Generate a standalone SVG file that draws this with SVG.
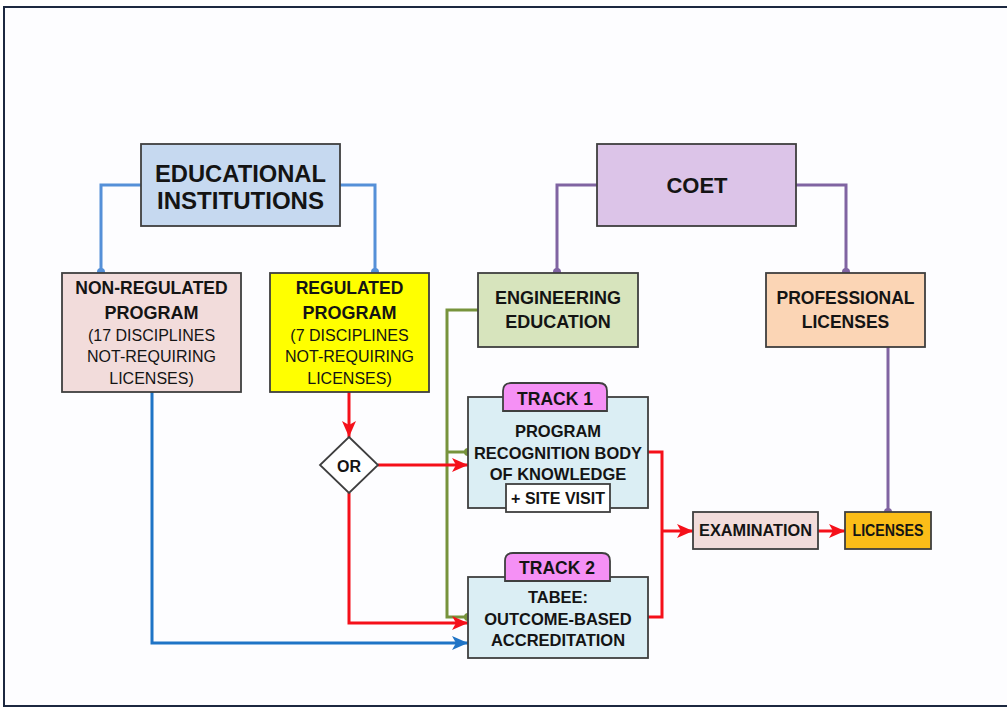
<svg xmlns="http://www.w3.org/2000/svg" width="1007" height="709" viewBox="0 0 1007 709">
<defs>
<style>
text{font-family:"Liberation Sans",Arial,sans-serif;font-weight:bold;fill:#141414;text-anchor:middle}
.n{font-weight:normal}
.box{stroke:#3f3f3f;stroke-width:1.8}
.ln{fill:none;stroke-width:3;stroke-linejoin:miter}
.blu{stroke:#5590d8}
.blu2{stroke:#1f74c6}
.pur{stroke:#8064a2}
.grn{stroke:#77933c}
.red{stroke:#f5101a}
</style>
<marker id="ar" markerUnits="userSpaceOnUse" markerWidth="18" markerHeight="14" refX="16" refY="7" orient="auto"><path d="M0,0 L16,7 L0,14 L4,7 Z" fill="#f5101a"/></marker>
<marker id="ab" markerUnits="userSpaceOnUse" markerWidth="18" markerHeight="14" refX="16" refY="7" orient="auto"><path d="M0,0 L16,7 L0,14 L4,7 Z" fill="#1f74c6"/></marker>
</defs>
<rect x="4" y="7" width="1010" height="699" fill="#fdfdff" stroke="#1c2840" stroke-width="2"/>

<g id="connectors">
<path class="ln blu" d="M141,185 H101 V272"/>
<path class="ln blu" d="M340,185 H375 V272"/>
<path class="ln pur" d="M597,185 H557 V272"/>
<path class="ln pur" d="M796,185 H846 V272"/>
<path class="ln pur" d="M888,347 V512"/>
<path class="ln grn" d="M478,310 H447 V617 H468"/>
<path class="ln grn" d="M447,452 H468"/>
<path class="ln red" d="M349,392 V437" marker-end="url(#ar)"/>
<path class="ln red" d="M378,465 H468" marker-end="url(#ar)"/>
<path class="ln red" d="M349,493 V623 H468" marker-end="url(#ar)"/>
<path class="ln red" d="M648,452 H662 V617 H648"/>
<path class="ln red" d="M662,531 H693" marker-end="url(#ar)"/>
<path class="ln red" d="M818,531 H845" marker-end="url(#ar)"/>
<path class="ln blu2" d="M152,392 V643 H468" marker-end="url(#ab)"/>
<g fill="#5590d8"><circle cx="101" cy="272" r="4"/><circle cx="375" cy="272" r="4"/></g>
<g fill="#8064a2"><circle cx="557" cy="272" r="4"/><circle cx="846" cy="272" r="4"/><circle cx="888" cy="512" r="4"/></g>
<g fill="#77933c"><circle cx="468" cy="452" r="4"/><circle cx="468" cy="617" r="4"/></g>
</g>

<g id="educational-institutions">
<rect class="box" x="141" y="144" width="199" height="82" fill="#c6d9f0"/>
<text x="240.5" y="182" font-size="24" textLength="171" lengthAdjust="spacingAndGlyphs">EDUCATIONAL</text>
<text x="240.5" y="209" font-size="24" textLength="167" lengthAdjust="spacingAndGlyphs">INSTITUTIONS</text>
</g>

<g id="non-regulated">
<rect class="box" x="62" y="273" width="179" height="119" fill="#f2dcdb"/>
<text x="151.5" y="294" font-size="17.5">NON-REGULATED</text>
<text x="151.5" y="319" font-size="18">PROGRAM</text>
<text class="n" x="151.5" y="341" font-size="16">(17 DISCIPLINES</text>
<text class="n" x="151.5" y="362" font-size="16">NOT-REQUIRING</text>
<text class="n" x="151.5" y="384" font-size="16">LICENSES)</text>
</g>

<g id="regulated">
<rect class="box" x="270" y="273" width="159" height="119" fill="#ffff00"/>
<text x="349.5" y="294" font-size="17.5">REGULATED</text>
<text x="349.5" y="319" font-size="18">PROGRAM</text>
<text class="n" x="349.5" y="341" font-size="16">(7 DISCIPLINES</text>
<text class="n" x="349.5" y="362" font-size="16">NOT-REQUIRING</text>
<text class="n" x="349.5" y="384" font-size="16">LICENSES)</text>
</g>

<g id="coet">
<rect class="box" x="597" y="144" width="199" height="82" fill="#dcc4e8"/>
<text x="697" y="193" font-size="22">COET</text>
</g>

<g id="engineering-education">
<rect class="box" x="478" y="273" width="160" height="74" fill="#d7e4bd"/>
<text x="558" y="304" font-size="18">ENGINEERING</text>
<text x="558" y="328" font-size="18">EDUCATION</text>
</g>

<g id="professional-licenses">
<rect class="box" x="766" y="273" width="159" height="74" fill="#fbd5b5"/>
<text x="845.5" y="304" font-size="17.5">PROFESSIONAL</text>
<text x="845.5" y="328" font-size="17.5">LICENSES</text>
</g>

<g id="or">
<path class="box" d="M349,437 L378,465 L349,493 L320,465 Z" fill="#ffffff"/>
<text x="349" y="471.5" font-size="16">OR</text>
</g>

<g id="track1">
<rect class="box" x="468" y="397" width="180" height="111" fill="#dbeef4"/>
<path class="box" d="M503,411 V391 Q503,383 511,383 H599 Q607,383 607,391 V411 Z" fill="#f590f5"/>
<text x="555" y="405" font-size="17.5">TRACK 1</text>
<text x="558" y="437" font-size="16.5">PROGRAM</text>
<text x="558" y="459" font-size="16.5" textLength="168" lengthAdjust="spacingAndGlyphs">RECOGNITION BODY</text>
<text x="558" y="480" font-size="16.5">OF KNOWLEDGE</text>
<rect class="box" x="506" y="484" width="104" height="28" fill="#ffffff"/>
<text x="558" y="504" font-size="16">+ SITE VISIT</text>
</g>

<g id="track2">
<rect class="box" x="468" y="577" width="180" height="81" fill="#dbeef4"/>
<path class="box" d="M505,581 V561 Q505,553 513,553 H602 Q610,553 610,561 V581 Z" fill="#f590f5"/>
<text x="557" y="574" font-size="17.5">TRACK 2</text>
<text x="558" y="603" font-size="16.5">TABEE:</text>
<text x="558" y="625" font-size="16.5">OUTCOME-BASED</text>
<text x="558" y="646" font-size="16.5">ACCREDITATION</text>
</g>

<g id="examination">
<rect class="box" x="693" y="512" width="125" height="37" fill="#f2dcdb"/>
<text x="755.5" y="536" font-size="16" textLength="113" lengthAdjust="spacingAndGlyphs">EXAMINATION</text>
</g>

<g id="licenses">
<rect class="box" x="845" y="512" width="86" height="37" fill="#fbbd18"/>
<text x="888" y="536" font-size="16" textLength="71" lengthAdjust="spacingAndGlyphs">LICENSES</text>
</g>
</svg>
